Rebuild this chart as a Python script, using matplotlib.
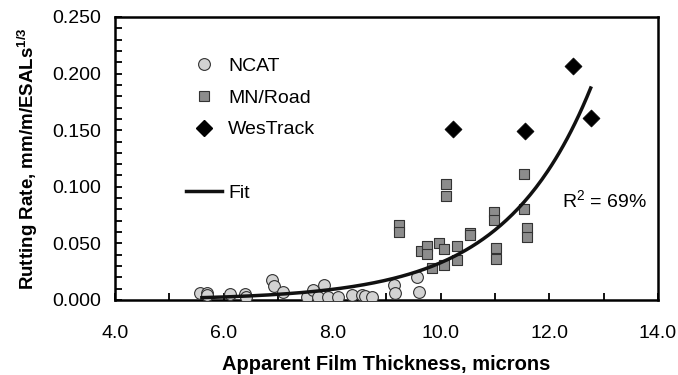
import matplotlib
matplotlib.use("Agg")
import matplotlib.pyplot as plt
import numpy as np
from matplotlib.lines import Line2D
from matplotlib.ticker import MultipleLocator, FormatStrFormatter

plt.rcParams["font.family"] = ["Liberation Sans", "DejaVu Sans"]
plt.rcParams["mathtext.default"] = "regular"

# NCAT sections
ncat_x = [5.57, 5.70, 5.70, 6.12, 6.40, 6.42, 6.90, 6.93, 7.10, 7.53, 7.65, 7.74,
          7.85, 7.93, 8.11, 8.36, 8.54, 8.60, 8.73, 9.13, 9.16, 9.56, 9.60]
ncat_y = [0.006, 0.006, 0.004, 0.005, 0.005, 0.003, 0.018, 0.012, 0.0075, 0.003, 0.009, 0.003,
          0.013, 0.003, 0.003, 0.0045, 0.004, 0.0035, 0.003, 0.0135, 0.0065, 0.0205, 0.0072]

# MN/Road cells
mn_x = [9.23, 9.23, 9.63, 9.74, 9.74, 9.83, 9.97, 10.05, 10.05, 10.10, 10.10, 10.30,
        10.30, 10.54, 10.54, 10.98, 10.98, 11.01, 11.01, 11.54, 11.54, 11.59, 11.59]
mn_y = [0.066, 0.060, 0.043, 0.048, 0.041, 0.028, 0.050, 0.045, 0.031, 0.1025, 0.092, 0.048,
        0.035, 0.059, 0.057, 0.078, 0.071, 0.046, 0.036, 0.111, 0.080, 0.064, 0.056]

# WesTrack sections
wes_x = [10.22, 11.55, 12.43, 12.76]
wes_y = [0.151, 0.149, 0.207, 0.161]

# exponential fit: rate = A * exp(B * thickness)
FIT_A = 6.12e-5
FIT_B = 0.629
FIT_RANGE = (5.6, 12.76)
R2_LABEL = "R$^{2}$ = 69%"

fig = plt.figure(figsize=(6.78, 3.75), dpi=100)
ax = fig.add_axes([0.1696, 0.2, 0.8009, 0.7547])

ax.scatter(ncat_x, ncat_y, s=72, marker="o", facecolor="#d3d3d3",
           edgecolor="#333333", linewidth=0.8, zorder=3)
ax.scatter(mn_x, mn_y, s=58, marker="s", facecolor="#8c8c8c",
           edgecolor="#333333", linewidth=0.8, zorder=3)
ax.scatter(wes_x, wes_y, s=75, marker="D", facecolor="black",
           edgecolor="black", linewidth=0.5, zorder=3)

xf = np.linspace(*FIT_RANGE, 200)
ax.plot(xf, FIT_A * np.exp(FIT_B * xf), color="#111111", lw=2.5, zorder=4)

ax.text(12.23, 0.088, R2_LABEL, fontsize=14, va="center", ha="left")

ax.set_xlim(4, 14)
ax.set_ylim(0, 0.25)
ax.xaxis.set_major_locator(MultipleLocator(2))
ax.xaxis.set_minor_locator(MultipleLocator(1))
ax.yaxis.set_major_locator(MultipleLocator(0.05))
ax.yaxis.set_minor_locator(MultipleLocator(0.01))
ax.xaxis.set_major_formatter(FormatStrFormatter("%.1f"))
ax.yaxis.set_major_formatter(FormatStrFormatter("%.3f"))
ax.tick_params(which="both", direction="in", length=5, width=1.3, labelsize=14,
               colors="black", top=False, right=False)
ax.tick_params(axis="x", which="major", pad=18)
ax.tick_params(axis="y", which="major", pad=10)
for sp in ax.spines.values():
    sp.set_linewidth(1.8)

ax.set_xlabel("Apparent Film Thickness, microns", fontsize=14.5,
              fontweight="bold", labelpad=9)
ax.set_ylabel("Rutting Rate, mm/m/ESALs$^{1/3}$", fontsize=13.5,
              fontweight="bold", labelpad=9)

handles = [
    Line2D([], [], ls="none", marker="o", ms=8.5, mfc="#d3d3d3", mec="#333333", mew=0.8),
    Line2D([], [], ls="none", marker="s", ms=7, mfc="#8c8c8c", mec="#333333", mew=0.8),
    Line2D([], [], ls="none", marker="D", ms=8, mfc="black", mec="black"),
]
leg = ax.legend(handles, ["NCAT", "MN/Road", "WesTrack"], loc="center left",
                bbox_to_anchor=(0.131, 0.714), frameon=False, fontsize=14,
                borderpad=0, borderaxespad=0, handlelength=1.85,
                handletextpad=0.3, labelspacing=0.72)
ax.add_artist(leg)
ax.legend([Line2D([], [], color="#111111", lw=2.5)], ["Fit"], loc="center left",
          bbox_to_anchor=(0.131, 0.378), frameon=False, fontsize=14,
          borderpad=0, borderaxespad=0, handlelength=1.85, handletextpad=0.3)

fig.savefig("out.png", dpi=100)
